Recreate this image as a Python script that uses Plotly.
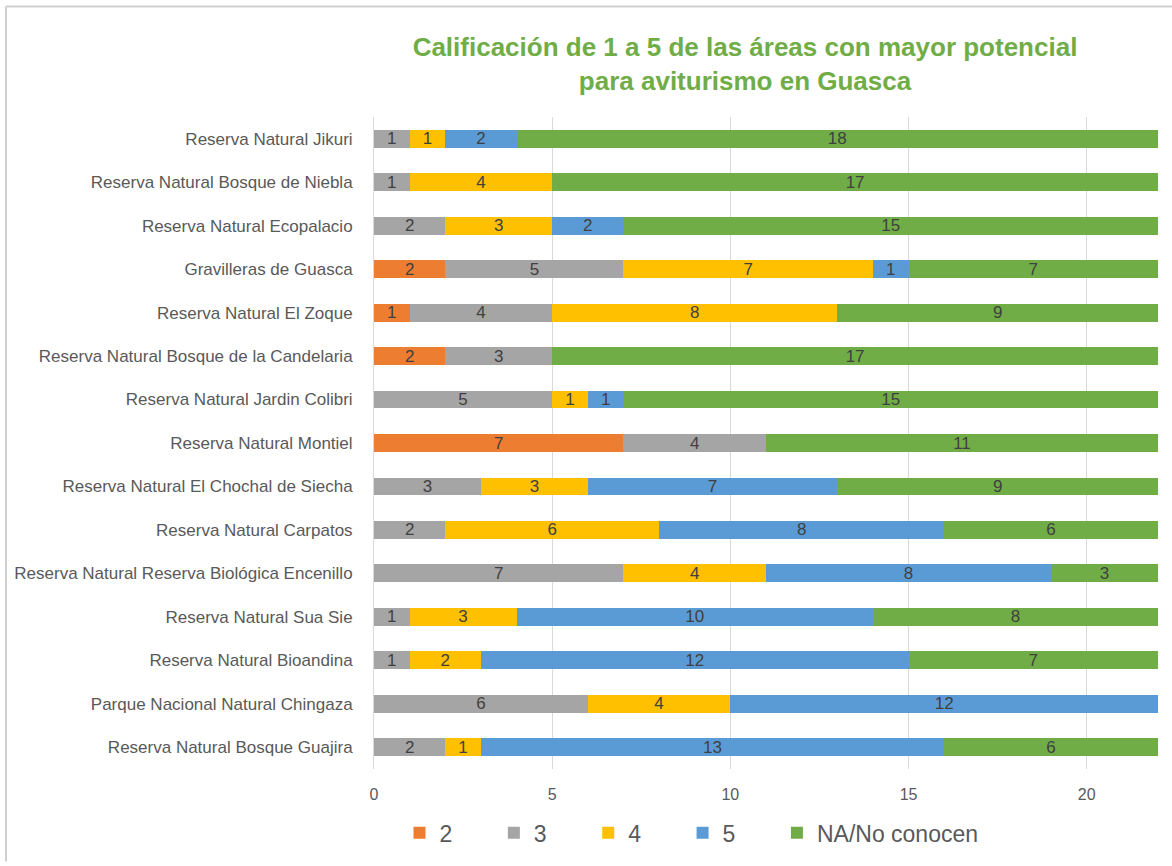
import plotly.graph_objects as go

categories = [
    "Reserva Natural Jikuri",
    "Reserva Natural Bosque de Niebla",
    "Reserva Natural Ecopalacio",
    "Gravilleras de Guasca",
    "Reserva Natural El Zoque",
    "Reserva Natural Bosque de la Candelaria",
    "Reserva Natural Jardin Colibri",
    "Reserva Natural Montiel",
    "Reserva Natural El Chochal de Siecha",
    "Reserva Natural Carpatos",
    "Reserva Natural Reserva Biológica Encenillo",
    "Reserva Natural Sua Sie",
    "Reserva Natural Bioandina",
    "Parque Nacional Natural Chingaza",
    "Reserva Natural Bosque Guajira",
]
s2 = [0, 0, 0, 2, 1, 2, 0, 7, 0, 0, 0, 0, 0, 0, 0]
s3 = [1, 1, 2, 5, 4, 3, 5, 4, 3, 2, 7, 1, 1, 6, 2]
s4 = [1, 4, 3, 7, 8, 0, 1, 0, 3, 6, 4, 3, 2, 4, 1]
s5 = [2, 0, 2, 1, 0, 0, 1, 0, 7, 8, 8, 10, 12, 12, 13]
sna = [18, 17, 15, 7, 9, 17, 15, 11, 9, 6, 3, 8, 7, 0, 6]
series_names = ["2", "3", "4", "5", "NA/No conocen"]
colors = ["#ED7D31", "#A5A5A5", "#FFC000", "#5B9BD5", "#70AD47"]
tick_vals = [0, 5, 10, 15, 20]
title_text = "Calificación de 1 a 5 de las áreas con mayor potencial<br>para aviturismo en Guasca"

PAD = "\u00a0" * 5 + "\u2009"
fig = go.Figure()
for name, vals, col in zip(series_names, [s2, s3, s4, s5, sna], colors):
    fig.add_trace(go.Bar(
        y=categories, x=vals,
        name=name if name.startswith("NA") else name + PAD,
        orientation="h",
        marker=dict(color=col, line=dict(width=0)),
        text=[str(v) if v else "" for v in vals],
        textposition="inside", insidetextanchor="middle", textangle=0,
        constraintext="none",
        textfont=dict(family="Liberation Sans, Arial", size=17, color="#404040"),
        cliponaxis=False,
    ))

W, H = 1172, 866
L, R, T, B = 374, 14, 117, 94
pw = W - L - R
ph = H - T - B

fig.update_layout(
    width=W, height=H, barmode="stack", bargap=0.59,
    margin=dict(l=L, r=R, t=T, b=B),
    paper_bgcolor="white", plot_bgcolor="white",
    font=dict(family="Liberation Sans, Arial", color="#595959"),
    title=dict(
        text="<b>" + title_text + "</b>",
        x=(745 - L) / pw, xref="paper", xanchor="center",
        y=1 - 56 / H, yanchor="middle",
        font=dict(family="Liberation Sans, Arial", size=26, color="#70AD47"),
    ),
    xaxis=dict(
        range=[0, 22], tickvals=tick_vals, showgrid=True, gridcolor="#D9D9D9",
        gridwidth=1, zeroline=False, showline=False, ticks="",
        ticklabelstandoff=14,
        tickfont=dict(size=16, color="#595959"), fixedrange=True,
    ),
    yaxis=dict(
        autorange="reversed", showline=True, linecolor="#D9D9D9", linewidth=1,
        ticks="", ticklabelstandoff=17, tickfont=dict(size=17, color="#595959"),
    ),
    legend=dict(
        orientation="h", x=(399.5 - L) / pw, xanchor="left",
        y=-(836 - (T + ph)) / ph, yanchor="middle",
        font=dict(family="Liberation Sans, Arial", size=23, color="#595959"),
        traceorder="normal", itemwidth=30,
    ),
)

# Chart frame (top and left edges visible in the reference)
fig.add_shape(type="line", xref="paper", yref="paper",
              x0=(6 - L) / pw, x1=(W - L) / pw, y0=1 + (T - 6) / ph, y1=1 + (T - 6) / ph,
              line=dict(color="#D0D0D0", width=2))
fig.add_shape(type="line", xref="paper", yref="paper",
              x0=(6 - L) / pw, x1=(6 - L) / pw, y0=1 + (T - 6) / ph, y1=-(B - 1) / ph,
              line=dict(color="#D0D0D0", width=2))

fig.write_html("out.html", config={"displayModeBar": False},
               post_script="document.body.style.margin='0';")
